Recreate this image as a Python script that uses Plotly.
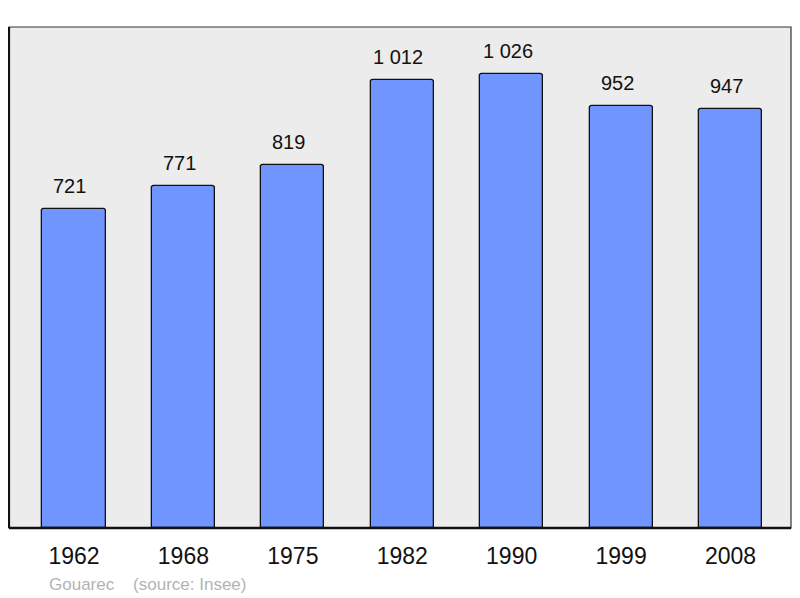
import plotly.graph_objects as go

years = ["1962", "1968", "1975", "1982", "1990", "1999", "2008"]
population = [721, 771, 819, 1012, 1026, 952, 947]
value_labels = ["721", "771", "819", "1 012", "1 026", "952", "947"]
footer_text = "Gouarec    (source: Insee)"

FONT = "Liberation Sans, Arial, sans-serif"
xpos = list(range(len(years)))

fig = go.Figure()
fig.add_trace(go.Bar(
    x=xpos, y=population, width=0.576,
    marker=dict(color="#7095ff", line=dict(color="#111111", width=1.3), cornerradius=3),
    hoverinfo="skip", showlegend=False,
))

for xi, v, t in zip(xpos, population, value_labels):
    fig.add_annotation(x=xi, y=v, text=t, showarrow=False, yanchor="bottom",
                       yshift=10, xshift=-4, font=dict(family=FONT, size=20, color="#111111"))

fig.add_annotation(xref="paper", yref="paper", x=0.049, y=-0.112, xanchor="left", yanchor="middle",
                   text=footer_text.replace(" ", "&nbsp;"), showarrow=False,
                   font=dict(family=FONT, size=17, color="#b3b3b3"))

# plot frame
fig.add_shape(type="rect", xref="paper", yref="paper", x0=0, y0=0, x1=1, y1=1,
              line=dict(color="#333333", width=1.2), layer="above")
fig.add_shape(type="line", xref="paper", yref="paper", x0=0, y0=0, x1=1, y1=0,
              line=dict(color="#111111", width=2.5), layer="above")
fig.add_shape(type="line", xref="paper", yref="paper", x0=0, y0=0, x1=0, y1=1,
              line=dict(color="#111111", width=2.2), layer="above")

fig.update_layout(
    width=792, height=590,
    margin=dict(l=1, r=9, t=19, b=70),
    paper_bgcolor="white", plot_bgcolor="#ececec",
    bargap=0,
    xaxis=dict(range=[-0.594, 6.553], tickmode="array", tickvals=xpos, ticktext=years,
               showgrid=False, zeroline=False, showline=False, ticks="",
               tickfont=dict(family=FONT, size=23, color="#111111"), ticklabelstandoff=12),
    yaxis=dict(range=[0, 1131], showgrid=False, zeroline=False, showline=False,
               showticklabels=False, ticks=""),
)

fig.write_html("out.html")
